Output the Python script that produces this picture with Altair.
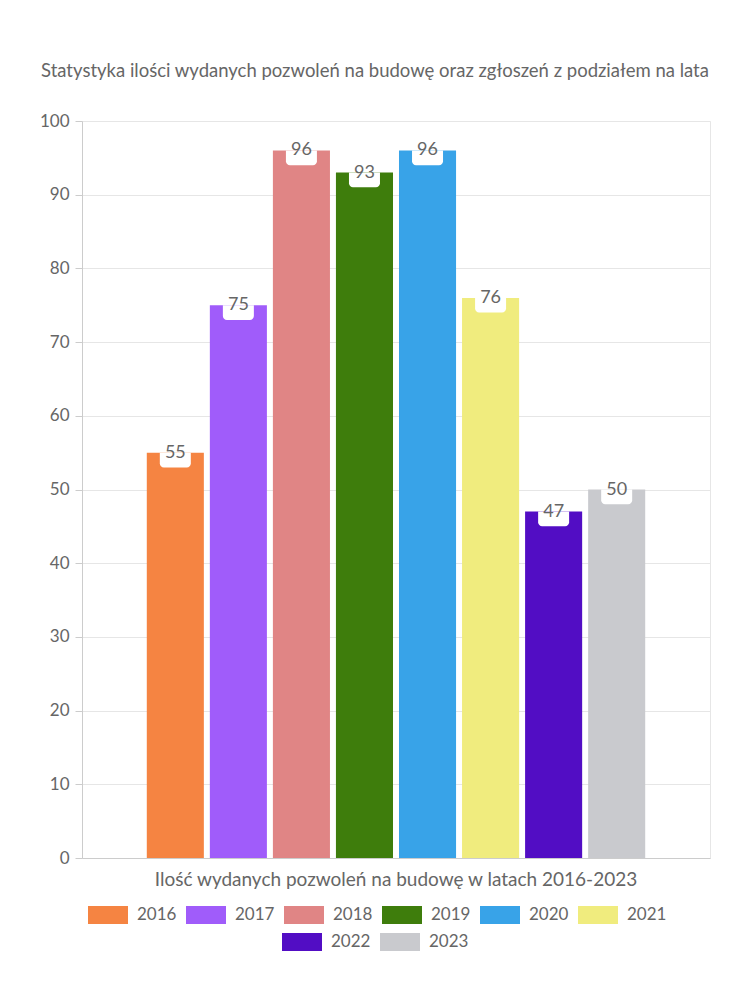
import altair as alt
import pandas as pd

category = "Ilość wydanych pozwoleń na budowę w latach 2016-2023"
years = ["2016", "2017", "2018", "2019", "2020", "2021", "2022", "2023"]
values = [55, 75, 96, 93, 96, 76, 47, 50]
colors = ["#F58442", "#A05CFA", "#E08585", "#3E7D0C", "#38A3E8", "#F0EC7E", "#520DC4", "#C9CACE"]
title_text = "Statystyka ilości wydanych pozwoleń na budowę oraz zgłoszeń z podziałem na lata"

df = pd.DataFrame({"cat": [category] * len(years), "year": years, "value": values})

FONT = "Lato"
GRAY = "#666666"
row1_years = years[:6]
row2_years = years[6:]

x_enc = alt.X("cat:N", title=None,
              scale=alt.Scale(paddingOuter=0.13, paddingInner=0),
              axis=alt.Axis(labelAngle=0, labelFontSize=19, labelColor=GRAY, labelFont=FONT,
                            labelPadding=12, labelLimit=0, ticks=False, domainColor="#cccccc",
                            grid=False))
xo_enc = alt.XOffset("year:N", scale=alt.Scale(domain=years, paddingInner=0.095, paddingOuter=0.0))
y_scale = alt.Scale(domain=[0, 100], nice=False)
y_enc = alt.Y("value:Q", scale=y_scale, title=None,
              axis=alt.Axis(values=list(range(0, 101, 10)), labelFontSize=17, labelColor=GRAY,
                            labelFont=FONT, tickColor="#cccccc", tickSize=7, labelPadding=6,
                            domainColor="#cccccc", gridColor="#e6e6e6"))

legend_common = dict(title=None, orient="none", direction="horizontal",
                     symbolType="M-1,-0.45L1,-0.45L1,0.45L-1,0.45Z",
                     symbolSize=1600, symbolStrokeWidth=0, symbolOpacity=1,
                     labelFontSize=17, labelColor=GRAY, labelFont=FONT,
                     labelOffset=9, columnPadding=9, rowPadding=-3, padding=0)

base = alt.Chart(df)

bars1 = base.transform_filter(alt.FieldOneOfPredicate(field="year", oneOf=row1_years)).mark_bar().encode(
    x=x_enc,
    xOffset=xo_enc,
    y=y_enc,
    color=alt.Color("year:N", scale=alt.Scale(domain=row1_years, range=colors[:6]),
                    legend=alt.Legend(columns=6, legendX=6, legendY=774, **legend_common)),
)

bars2 = base.transform_filter(alt.FieldOneOfPredicate(field="year", oneOf=row2_years)).mark_bar().encode(
    x=alt.X("cat:N"),
    xOffset=alt.XOffset("year:N"),
    y=alt.Y("value:Q", scale=y_scale),
    fill=alt.Fill("year:N", scale=alt.Scale(domain=row2_years, range=colors[6:]),
                  legend=alt.Legend(columns=2, legendX=200, legendY=801, **legend_common)),
)

boxes = base.transform_calculate(lo="datum.value - 2").mark_bar(
    width=31, color="white", cornerRadiusBottomLeft=4, cornerRadiusBottomRight=4
).encode(
    x=alt.X("cat:N"),
    xOffset=alt.XOffset("year:N"),
    y=alt.Y("value:Q", scale=y_scale),
    y2="lo:Q",
)

labels = base.mark_text(fontSize=18, color=GRAY, font=FONT, baseline="middle", dy=0).encode(
    x=alt.X("cat:N"),
    xOffset=alt.XOffset("year:N"),
    y=alt.Y("value:Q", scale=y_scale),
    text="value:Q",
)

chart = alt.layer(bars1, bars2, boxes, labels).properties(
    width=628, height=737,
    autosize=alt.AutoSizeParams(type="none"),
    padding={"left": 82, "top": 121, "right": 40, "bottom": 142},
    title=alt.Title(title_text, fontSize=18.5, color=GRAY, font=FONT, fontWeight="normal",
                    anchor="middle", offset=32, dx=-21),
    background="white",
).configure_view(stroke="#e6e6e6")

chart.save("out.html", embed_options={"renderer": "svg", "actions": False})
